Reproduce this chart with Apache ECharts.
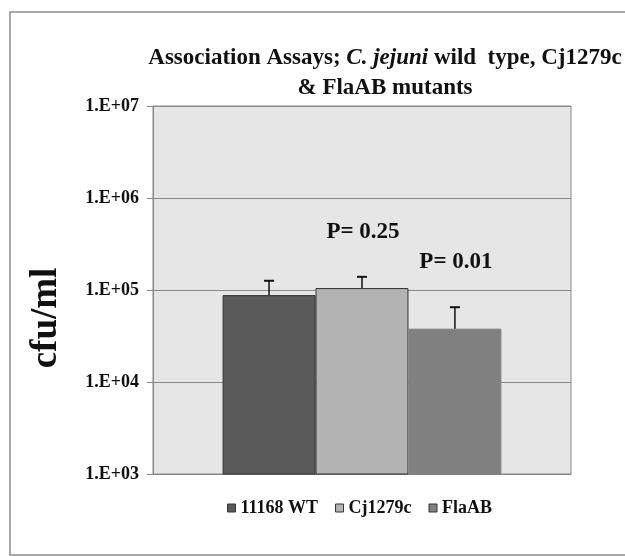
<!DOCTYPE html>
<html>
<head>
<meta charset="utf-8">
<script src="https://cdn.jsdelivr.net/npm/echarts@6/dist/echarts.min.js"></script>
<style>
html,body{margin:0;padding:0;background:#fff;}
#chart{width:625px;height:556px;}
</style>
</head>
<body>
<div id="chart"></div>
<script>
const categories = ['11168 WT', 'Cj1279c', 'FlaAB'];
const meanValues = [88000, 105000, 38000];
const errorUpper = [126000, 139000, 65000];
const pLabels = ['', 'P= 0.25', 'P= 0.01'];
const yTickLabels = ['1.E+03', '1.E+04', '1.E+05', '1.E+06', '1.E+07'];
const barColors = ['#5a5a5a', '#b3b3b3', '#808080'];
const barBorders = ['#333333', '#333333', '#808080'];

const FONT = '"Liberation Serif", "Times New Roman", serif';
const chart = echarts.init(document.getElementById('chart'), null, {renderer: 'canvas'});

const barSeries = categories.map((name, i) => ({
  name: name,
  type: 'bar',
  data: [meanValues[i]],
  barGap: '0%',
  barCategoryGap: '33.3%',
  itemStyle: {color: barColors[i], borderColor: barBorders[i], borderWidth: 1},
  emphasis: {disabled: true},
  z: 2
}));

const errSeries = {
  name: 'err',
  type: 'custom',
  z: 5,
  silent: true,
  data: categories.map((c, i) => [0, meanValues[i], errorUpper[i], i]),
  renderItem: function (params, api) {
    const idx = api.value(3);
    const band = api.size([1, 1000])[0];
    const bw = band * (1 - 0.333) / categories.length;
    const center = api.coord([0, api.value(1)]);
    const x = center[0] + (idx - (categories.length - 1) / 2) * bw;
    const yTop = api.coord([0, api.value(2)])[1];
    const yMean = center[1];
    const cap = 5;
    const children = [
      {type: 'line', shape: {x1: x, y1: yMean, x2: x, y2: yTop}, style: {stroke: '#111', lineWidth: 1.5}},
      {type: 'line', shape: {x1: x - cap, y1: yTop, x2: x + cap, y2: yTop}, style: {stroke: '#111', lineWidth: 2}}
    ];
    const lbl = pLabels[idx];
    if (lbl) {
      children.push({
        type: 'text',
        style: {
          text: lbl, x: x + 1, y: yTop - 45,
          align: 'center', verticalAlign: 'middle',
          font: 'bold 23px ' + FONT, fill: '#111'
        }
      });
    }
    return {type: 'group', children: children};
  }
};

chart.setOption({
  animation: false,
  backgroundColor: '#ffffff',
  graphic: [{
    type: 'rect', z: -10, silent: true,
    shape: {x: 10, y: 12, width: 700, height: 543},
    style: {fill: 'none', stroke: '#8c8c8c', lineWidth: 1.5}
  }],
  title: {
    left: 385, top: 43, textAlign: 'center', padding: 0,
    text: '{b|Association Assays; }{i|C. jejuni}{b| wild  type, Cj1279c}\n{b|& FlaAB mutants}',
    textStyle: {
      rich: {
        b: {fontFamily: FONT, fontWeight: 'bold', fontSize: 23, color: '#111', lineHeight: 30},
        i: {fontFamily: FONT, fontWeight: 'bold', fontStyle: 'italic', fontSize: 23, color: '#111', lineHeight: 30}
      }
    }
  },
  legend: {
    data: categories,
    bottom: 34, left: 222,
    icon: 'rect', itemWidth: 8, itemHeight: 8, itemGap: 17,
    textStyle: {fontFamily: FONT, fontWeight: 'bold', fontSize: 18, color: '#111', padding: [0, 0, 0, 0]},
    itemStyle: {borderColor: '#333', borderWidth: 1},
    selectedMode: false
  },
  grid: {left: 153, right: 54, top: 106, bottom: 82, show: true, backgroundColor: '#e6e6e6', borderColor: '#8c8c8c', borderWidth: 1},
  xAxis: {
    type: 'category', data: [''],
    axisLine: {show: true, lineStyle: {color: '#868686', width: 1}},
    axisTick: {show: false}, axisLabel: {show: false}, splitLine: {show: false}
  },
  yAxis: {
    type: 'log', logBase: 10, min: 1000, max: 10000000,
    name: 'cfu/ml', nameLocation: 'middle', nameRotate: 90, nameGap: 88,
    nameTextStyle: {fontFamily: FONT, fontWeight: 'bold', fontSize: 37, color: '#111', padding: [0, 56, 0, 0]},
    axisLine: {show: true, lineStyle: {color: '#868686', width: 1}},
    axisTick: {show: true, length: 6, lineStyle: {color: '#868686'}},
    axisLabel: {
      margin: 14, fontFamily: FONT, fontWeight: 'bold', fontSize: 18, color: '#111',
      formatter: function (v) {
        const k = Math.round(Math.log10(v)) - 3;
        return yTickLabels[k] !== undefined ? yTickLabels[k] : '';
      }
    },
    splitLine: {show: true, lineStyle: {color: '#8a8a8a', width: 1}}
  },
  series: barSeries.concat([errSeries])
});
</script>
</body>
</html>
